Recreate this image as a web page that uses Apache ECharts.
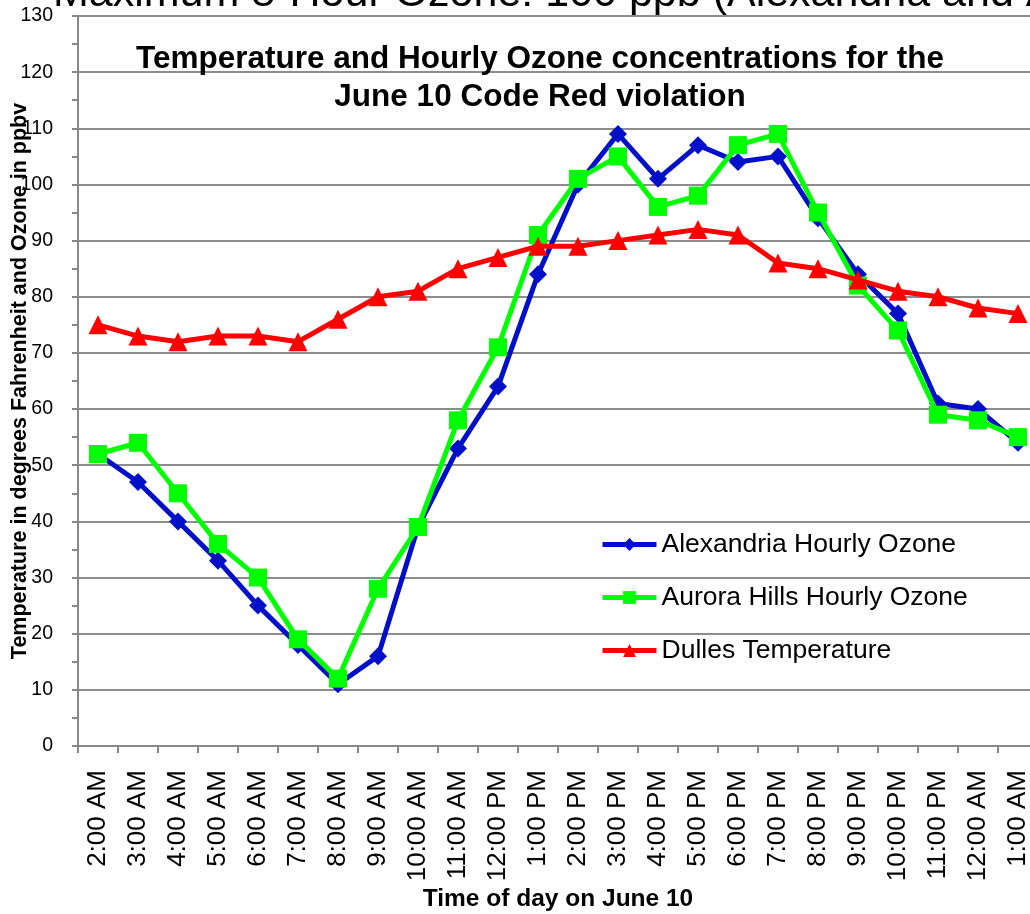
<!DOCTYPE html>
<html>
<head>
<meta charset="utf-8">
<script src="https://cdn.jsdelivr.net/npm/echarts@6/dist/echarts.min.js"></script>
<style>
html,body{margin:0;padding:0;background:#fff;}
#chart{width:1030px;height:914px;}
</style>
</head>
<body>
<div id="chart"></div>
<script>
var categories = ['2:00 AM','3:00 AM','4:00 AM','5:00 AM','6:00 AM','7:00 AM','8:00 AM','9:00 AM','10:00 AM','11:00 AM','12:00 PM','1:00 PM','2:00 PM','3:00 PM','4:00 PM','5:00 PM','6:00 PM','7:00 PM','8:00 PM','9:00 PM','10:00 PM','11:00 PM','12:00 AM','1:00 AM'];
var alexandria = [52,47,40,33,25,18,11,16,39,53,64,84,100,109,101,107,104,105,94,84,77,61,60,54];
var auroraHills = [52,54,45,36,30,19,12,28,39,58,71,91,101,105,96,98,107,109,95,82,74,59,58,55];
var dulles = [75,73,72,73,73,72,76,80,81,85,87,89,89,90,91,92,91,86,85,83,81,80,78,77];
var yTicks = {min:0, max:130, interval:10};
var topTitle = 'Maximum 8-Hour Ozone: 100 ppb (Alexandria and Aurora Hills)';
var chartTitle = 'Temperature and Hourly Ozone concentrations for the\nJune 10 Code Red violation';

var chart = echarts.init(document.getElementById('chart'), null, {renderer:'canvas'});
var F = 'Arial, "Liberation Sans", Helvetica, sans-serif';
chart.setOption({
  animation:false,
  backgroundColor:'#fff',
  title:{
    text: chartTitle,
    left: 535, top: 35, textAlign:'center',
    textStyle:{fontFamily:F, fontSize:31.5, fontWeight:'bold', color:'#000', lineHeight:38, align:'center'}
  },
  graphic:[{
    type:'text', left: 53, top: -27, z: 10,
    style:{text: topTitle, fontFamily:F, fontSize:43, fill:'#000'}
  }],
  legend:{
    orient:'vertical', left:600, top:531, padding:0,
    itemWidth:54, itemHeight:16, itemGap:26,
    lineStyle:{width:5},
    textStyle:{fontFamily:F, fontSize:26.5, color:'#000', lineHeight:26},
    data:['Alexandria Hourly Ozone','Aurora Hills Hourly Ozone','Dulles Temperature']
  },
  grid:{left:78, right:-8, top:16, bottom:168, containLabel:false, outerBoundsMode:'none'},
  xAxis:{
    type:'category', data:categories, boundaryGap:true,
    name:'Time of day on June 10', nameLocation:'middle', nameGap:141, nameMoveOverlap:false,
    nameTextStyle:{fontFamily:F, fontSize:24.5, fontWeight:'bold', color:'#000', verticalAlign:'top'},
    axisLine:{lineStyle:{color:'#888', width:2}},
    axisTick:{show:true, length:7, lineStyle:{color:'#888', width:2}},
    axisLabel:{rotate:90, fontFamily:F, fontSize:26, color:'#000', margin:24, interval:0, hideOverlap:false}
  },
  yAxis:{
    type:'value', min:yTicks.min, max:yTicks.max, interval:yTicks.interval,
    name:'Temperature in degrees Fahrenheit and Ozone in ppbv', nameLocation:'middle', nameGap:47, nameMoveOverlap:false,
    nameTextStyle:{fontFamily:F, fontSize:21.5, fontWeight:'bold', color:'#000', backgroundColor:'#fff', padding:[0,0,0,0]},
    axisLine:{show:true, lineStyle:{color:'#888', width:2}},
    axisTick:{show:true, inside:false, length:6, lineStyle:{color:'#888', width:2}},
    minorTick:{show:true, splitNumber:2, length:6, lineStyle:{color:'#888', width:2}},
    splitLine:{show:true, lineStyle:{color:'#8c8c8c', width:2}},
    axisLabel:{fontFamily:F, fontSize:19.5, color:'#000', margin:25}
  },
  series:[
    {name:'Alexandria Hourly Ozone', type:'line', data:alexandria, symbol:'diamond', symbolSize:18,
      itemStyle:{color:'#0010c8'}, lineStyle:{color:'#0010c8', width:5}, z:3},
    {name:'Aurora Hills Hourly Ozone', type:'line', data:auroraHills, symbol:'rect', symbolSize:18,
      itemStyle:{color:'#00ff00'}, lineStyle:{color:'#00ff00', width:5}, z:4},
    {name:'Dulles Temperature', type:'line', data:dulles, symbol:'triangle', symbolSize:19,
      itemStyle:{color:'#ff0000'}, lineStyle:{color:'#ff0000', width:5}, z:5}
  ]
});
</script>
</body>
</html>
